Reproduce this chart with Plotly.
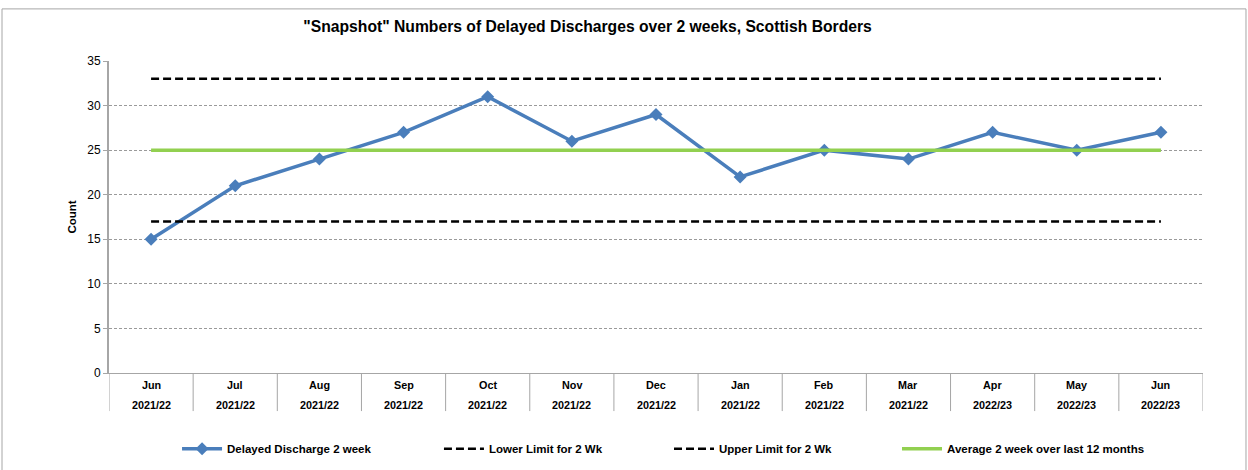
import plotly.graph_objects as go

months = ["Jun", "Jul", "Aug", "Sep", "Oct", "Nov", "Dec", "Jan", "Feb", "Mar", "Apr", "May", "Jun"]
years = ["2021/22", "2021/22", "2021/22", "2021/22", "2021/22", "2021/22", "2021/22",
         "2021/22", "2021/22", "2021/22", "2022/23", "2022/23", "2022/23"]
delayed = [15, 21, 24, 27, 31, 26, 29, 22, 25, 24, 27, 25, 27]
lower = [17, 17, 17, 17, 17, 17, 17, 17, 17, 17, 17, 17, 17]
upper = [33, 33, 33, 33, 33, 33, 33, 33, 33, 33, 33, 33, 33]
average = [25, 25, 25, 25, 25, 25, 25, 25, 25, 25, 25, 25, 25]

x = list(range(len(months)))
FONT = "Liberation Sans, Arial, sans-serif"
DASH = "8px,4px"

fig = go.Figure()
fig.add_trace(go.Scatter(x=x, y=delayed, mode="lines+markers", name="<b>Delayed Discharge 2 week</b>",
                         line=dict(color="#4a7ebb", width=3.5),
                         marker=dict(symbol="diamond", size=10, color="#4a7ebb"), legend="legend",
                         showlegend=True))
fig.add_trace(go.Scatter(x=x, y=lower, mode="lines", name="<b>Lower Limit for 2 Wk</b>",
                         line=dict(color="black", width=2.5, dash=DASH), legend="legend2",
                         showlegend=True))
fig.add_trace(go.Scatter(x=x, y=upper, mode="lines", name="<b>Upper Limit for 2 Wk</b>",
                         line=dict(color="black", width=2.5, dash=DASH), legend="legend3",
                         showlegend=True))
fig.add_trace(go.Scatter(x=x, y=average, mode="lines", name="<b>Average 2 week over last 12 months</b>",
                         line=dict(color="#92d050", width=3.5), legend="legend4",
                         showlegend=True))

shapes = []
for i in range(len(months) + 1):
    shapes.append(dict(type="line", xref="x", yref="paper", x0=i - 0.5, x1=i - 0.5,
                       y0=0, y1=-0.122, line=dict(color="#a6a6a6", width=1)))
shapes.append(dict(type="rect", xref="paper", yref="paper", x0=-0.0978, x1=1.0393,
                   y0=-0.35, y1=1.167, line=dict(color="#a6a6a6", width=1), layer="below"))

annotations = []
for i, (m, yr) in enumerate(zip(months, years)):
    annotations.append(dict(x=i, y=-0.0385, xref="x", yref="paper", text="<b>" + m + "</b>", showarrow=False,
                            font=dict(family=FONT, size=10.8, color="black"), yanchor="middle"))
    annotations.append(dict(x=i, y=-0.1026, xref="x", yref="paper", text="<b>" + yr + "</b>", showarrow=False,
                            font=dict(family=FONT, size=10.8, color="black"), yanchor="middle"))

LEG = dict(orientation="h", xanchor="left", y=-0.243, yanchor="middle",
           font=dict(family=FONT, size=11.5, color="black"), itemwidth=40,
           bgcolor="rgba(0,0,0,0)")

fig.update_layout(
    width=1248, height=470,
    showlegend=True,
    margin=dict(l=109, r=45, t=61, b=97, autoexpand=False),
    paper_bgcolor="white", plot_bgcolor="white",
    font=dict(family=FONT, color="black"),
    title=dict(text="<b>\"Snapshot\" Numbers of Delayed Discharges over 2 weeks, Scottish Borders</b>",
               x=0.4708, xanchor="center", y=0.943, yanchor="middle",
               font=dict(family=FONT, size=15.7, color="black")),
    xaxis=dict(range=[-0.5, 12.5], showticklabels=False, showgrid=False, zeroline=False,
               showline=True, linecolor="#a6a6a6", linewidth=1, ticks=""),
    yaxis=dict(range=[0, 35], dtick=5, tick0=0, showgrid=True, gridcolor="#9a9a9a", gridwidth=1,
               griddash="3px,2px", zeroline=False, showline=True, linecolor="#a6a6a6", linewidth=2,
               ticks="outside", ticklen=4, tickcolor="#a6a6a6",
               tickfont=dict(family=FONT, size=12, color="black"),
               title=dict(text="<b>Count</b>", font=dict(family=FONT, size=11.5, color="black"), standoff=8)),
    legend=dict(LEG, x=0.0622, visible=True),
    legend2=dict(LEG, x=0.3016),
    legend3=dict(LEG, x=0.5119),
    legend4=dict(LEG, x=0.7203),
    shapes=shapes, annotations=annotations,
)

fig.write_html("out.html", config={"displayModeBar": False},
               post_script="document.body.style.margin='0px';")
